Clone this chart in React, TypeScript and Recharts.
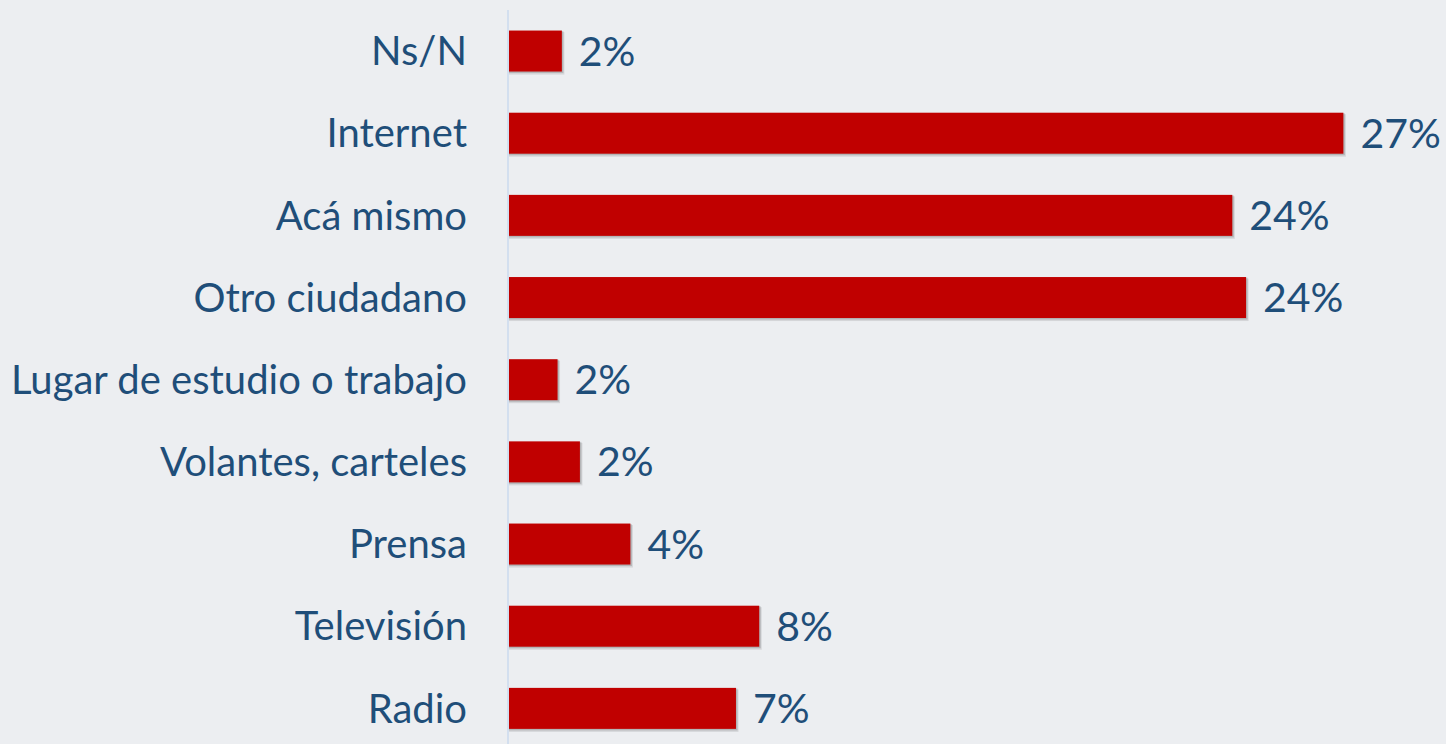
import React from 'react';
import { BarChart, Bar, XAxis, YAxis, LabelList } from 'recharts';

const categories = [
  'Ns/N',
  'Internet',
  'Acá mismo',
  'Otro ciudadano',
  'Lugar de estudio o trabajo',
  'Volantes, carteles',
  'Prensa',
  'Televisión',
  'Radio',
];
const values = [1.76, 27.3, 23.67, 24.12, 1.62, 2.35, 4.0, 8.21, 7.45];

const data = categories.map((name, i) => ({ name, value: values[i] }));

const TEXT = '#1F4E79';
const BAR = '#C00000';
const FONT = 'Lato, "Open Sans", sans-serif';

const ShadowBar = (props: any) => {
  const { x, y, width, height } = props;
  if (x == null || width == null) return null;
  return (
    <g>
      <rect x={x + 1} y={y + 1.5} width={width + 1.5} height={height + 1.5} fill="rgba(0,0,0,0.10)" />
      <rect x={x + 0.5} y={y + 0.5} width={width + 1} height={height + 1} fill="rgba(0,0,0,0.15)" />
      <rect x={x} y={y} width={width} height={height} fill={BAR} />
    </g>
  );
};

export default function App() {
  return (
    <div style={{ position: 'absolute', left: 0, top: 0, width: 1446, height: 744, background: '#ECEEF1', overflow: 'hidden' }}>
      <BarChart
        width={1446}
        height={760}
        data={data}
        layout="vertical"
        margin={{ top: 10, right: 20, bottom: 10.5, left: 0 }}
        barCategoryGap="25%"
      >
        <XAxis type="number" domain={[0, 30]} hide />
        <YAxis
          type="category"
          dataKey="name"
          width={508}
          axisLine={{ stroke: '#D3DFEF', strokeWidth: 2 }}
          tickLine={false}
          tickSize={0}
          tickMargin={41}
          tick={{ fill: TEXT, fontSize: 40, fontFamily: FONT }}
          interval={0}
        />
        <Bar dataKey="value" fill={BAR} isAnimationActive={false} shape={ShadowBar}>
          <LabelList
            dataKey="value"
            position="right"
            offset={17}
            formatter={(v: any) => `${Math.round(Number(v))}%`}
            fill={TEXT}
            fontSize={41}
            fontFamily={FONT}
          />
        </Bar>
      </BarChart>
    </div>
  );
}
